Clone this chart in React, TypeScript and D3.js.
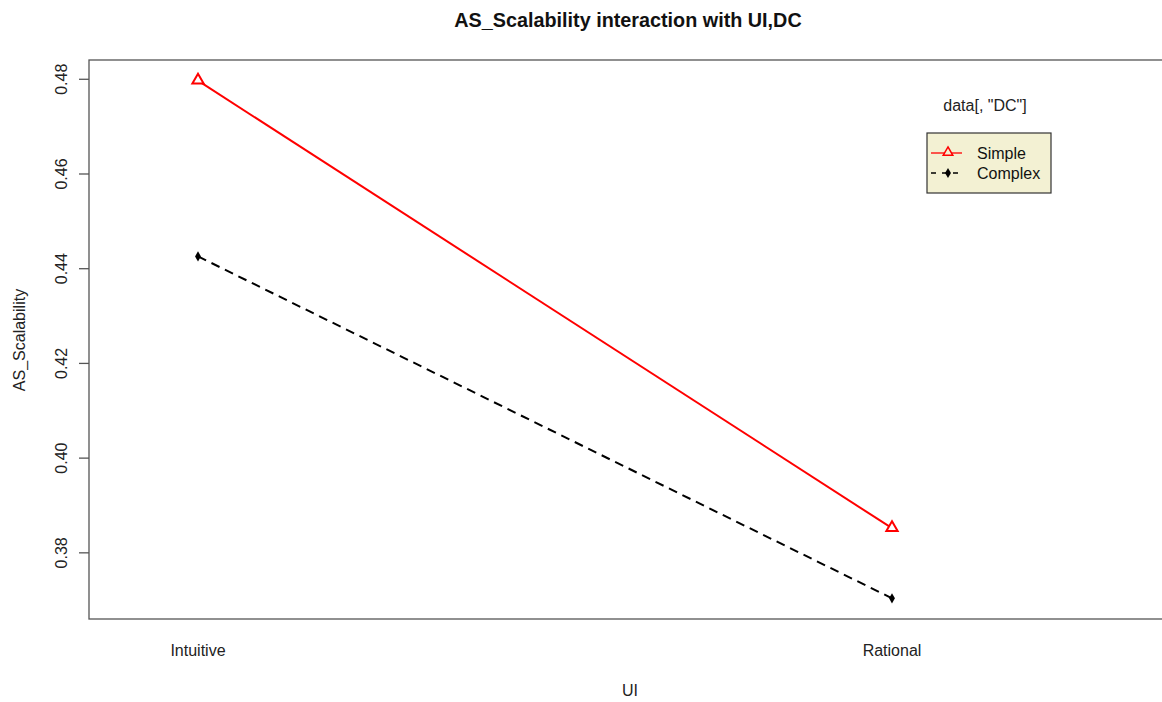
import * as React from 'react';
import * as d3 from 'd3';

const categories = ['Intuitive', 'Rational'];
const simpleValues = [0.4797, 0.3852];
const complexValues = [0.4426, 0.3704];
const yTicks = [0.38, 0.40, 0.42, 0.44, 0.46, 0.48];
const seriesNames = ['Simple', 'Complex'];

const W = 1162;
const H = 702;
const FONT = '"Liberation Sans", Arial, sans-serif';

const App = () => {
    const margin = { left: 89, top: 60, right: 1163, bottom: 619 };

    const allVals = simpleValues.concat(complexValues);
    const lo = d3.min(allVals) as number;
    const hi = d3.max(allVals) as number;
    const pad = (hi - lo) * 0.04;

    const y = d3.scaleLinear()
        .domain([lo - pad, hi + pad])
        .range([margin.bottom, margin.top]);

    const x = d3.scalePoint()
        .domain(categories)
        .range([198, 892]);

    const line = d3.line<number>()
        .x((d, i) => x(categories[i]) as number)
        .y(d => y(d));

    const tri = d3.symbol().type(d3.symbolTriangle).size(55);
    const diamond = d3.symbol().type(d3.symbolDiamond).size(30);

    const axisColor = '#555';
    const legX = 927, legY = 133;

    return (
        <svg width={W} height={H} style={{ position: 'absolute', left: 0, top: 0, background: '#fff' }}
            fontFamily={FONT}>
            <text x={628} y={27} textAnchor="middle" fontSize={19.8} fontWeight="bold" fill="#111">
                AS_Scalability interaction with UI,DC
            </text>

            {/* plot box */}
            <rect x={margin.left} y={margin.top} width={margin.right - margin.left}
                height={margin.bottom - margin.top} fill="none" stroke={axisColor} strokeWidth={1.3} />

            {/* y axis */}
            {yTicks.map(t => (
                <g key={t}>
                    <line x1={margin.left - 10} x2={margin.left} y1={y(t)} y2={y(t)} stroke={axisColor} strokeWidth={1.3} />
                    <text transform={`translate(67,${y(t)}) rotate(-90)`} textAnchor="middle"
                        fontSize={16} fill="#222">{t.toFixed(2)}</text>
                </g>
            ))}
            <text transform={`translate(25,340) rotate(-90)`} textAnchor="middle" fontSize={16} fill="#222">AS_Scalability</text>

            {/* x labels */}
            {categories.map(c => (
                <text key={c} x={x(c)} y={656} textAnchor="middle" fontSize={16} fill="#222">{c}</text>
            ))}
            <text x={630} y={696} textAnchor="middle" fontSize={16} fill="#222">UI</text>

            {/* series */}
            <path d={line(simpleValues) as string} fill="none" stroke="#ff0000" strokeWidth={2} />
            <path d={line(complexValues) as string} fill="none" stroke="#000" strokeWidth={2} strokeDasharray="9,6" />
            {simpleValues.map((v, i) => (
                <path key={'s' + i} d={tri() as string}
                    transform={`translate(${x(categories[i])},${y(v) - 0.5})`}
                    fill="#fff" stroke="#ff0000" strokeWidth={2} />
            ))}
            {complexValues.map((v, i) => (
                <path key={'c' + i} d={diamond() as string}
                    transform={`translate(${x(categories[i])},${y(v)})`} fill="#000" />
            ))}

            {/* legend */}
            <text x={985} y={111} textAnchor="middle" fontSize={16} fill="#222">data[, "DC"]</text>
            <rect x={legX} y={legY} width={124} height={60} fill="#f3f1d3" stroke="#333" strokeWidth={1.2} />
            {seriesNames.map((n, i) => {
                const ly = legY + 20 + i * 20;
                return (
                    <g key={n}>
                        {i === 0 ? (
                            <>
                                <line x1={931} x2={962} y1={ly} y2={ly} stroke="#ff0000" strokeWidth={1.3} />
                                <path d={d3.symbol().type(d3.symbolTriangle).size(40)() as string}
                                    transform={`translate(948,${ly - 0.5})`} fill="#f3f1d3" stroke="#ff0000" strokeWidth={1.5} />
                            </>
                        ) : (
                            <>
                                <line x1={931} x2={962} y1={ly} y2={ly} stroke="#000" strokeWidth={1.3} strokeDasharray="5,6" />
                                <path d={diamond() as string} transform={`translate(948,${ly})`} fill="#000" />
                            </>
                        )}
                        <text x={977} y={ly + 6} fontSize={16} fill="#111">{n}</text>
                    </g>
                );
            })}
        </svg>
    );
};

export default App;
